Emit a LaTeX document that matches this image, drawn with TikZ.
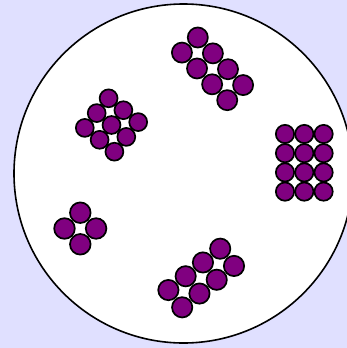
\documentclass[tikz,border=0pt]{standalone}
\usepackage{xcolor}
\usepackage{tikz}
\definecolor{lavender}{RGB}{224,224,255}
\definecolor{grape}{RGB}{128,0,128}

\begin{document}
\begin{tikzpicture}[x=1pt,y=-1pt,ball/.style={draw=black,fill=grape,line width=1.7pt}]
\fill[lavender](0,0)rectangle(347,348);
\clip(0,0)rectangle(347,348);
\draw[fill=white,line width=1.6pt](183.5,173.5)circle(169.5pt);
\foreach \i in {0,1}\foreach \j in {0,...,3}
\draw[ball]({197.8-15.86*\i+15.1*\j},{37.5+15.1*\i+15.86*\j})circle(10.05pt);
\foreach \i in {0,1,2}\foreach \j in {0,1,2}
\draw[ball]({108.6-11.9*\i+14.8*\j},{98.3+14.8*\i+11.9*\j})circle(8.95pt);
\foreach \i in {0,1,2}\foreach \j in {0,...,3}
\draw[ball]({285+19.3*\i},{134+19.2*\j})circle(9.15pt);
\foreach \a in {0,90,180,270}
\draw[ball]({80.3+15.8*cos(\a)},{228.5+15.8*sin(\a)})circle(10.3pt);
\foreach \i in {0,1}\foreach \j in {0,...,3}
\draw[ball]({168.4+13.79*\i+17.27*\j},{290.05+17.27*\i-13.79*\j})circle(10.15pt);
\end{tikzpicture}
\end{document}
